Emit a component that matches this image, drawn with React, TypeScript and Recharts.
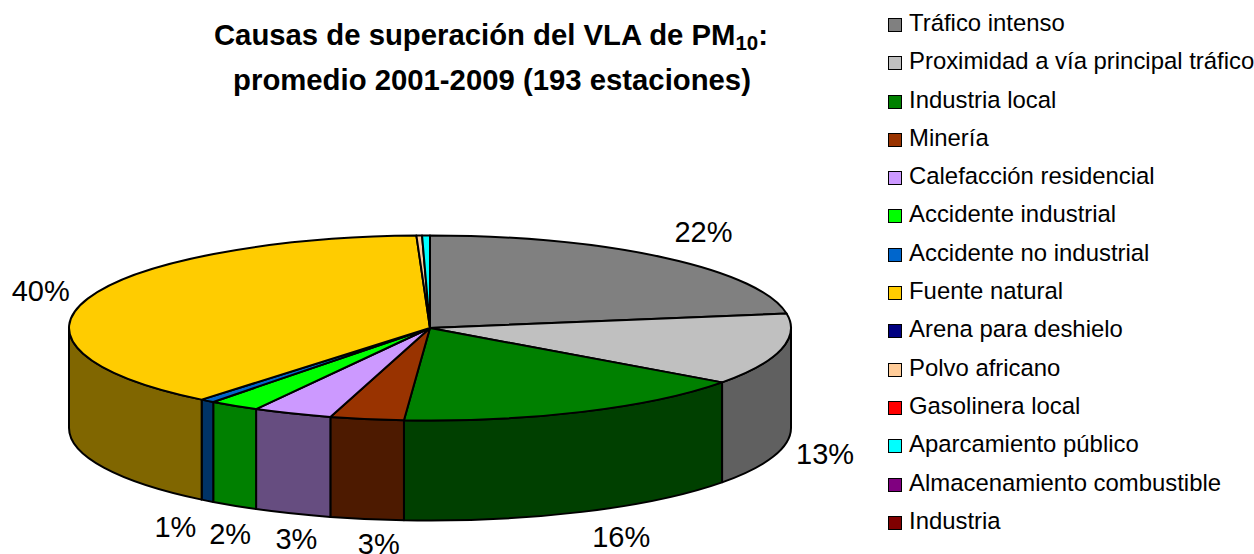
import React from 'react'
import { PieChart, Pie, Legend } from 'recharts'

const causes = [
  'Tráfico intenso',
  'Proximidad a vía principal tráfico',
  'Industria local',
  'Minería',
  'Calefacción residencial',
  'Accidente industrial',
  'Accidente no industrial',
  'Fuente natural',
  'Arena para deshielo',
  'Polvo africano',
  'Gasolinera local',
  'Aparcamiento público',
  'Almacenamiento combustible',
  'Industria',
]
const shares = [22.5, 12.5, 16.15, 3.3, 3.55, 2.25, 0.65, 38.5, 0, 0.25, 0, 0.35, 0, 0]
const shareLabels = ['22%', '13%', '16%', '3%', '3%', '2%', '1%', '40%']
const colors = [
  '#808080', '#C0C0C0', '#008000', '#993300', '#CC99FF', '#00FF00', '#0066CC',
  '#FFCC00', '#000080', '#FFCC99', '#FF0000', '#00FFFF', '#800080', '#800000',
]

const tableData = causes.map((name, i) => ({ name, value: shares[i], fill: colors[i] }))

// excel puts the labels wherever it likes, so nudge each one off the rim
const labelNudge = [
  [39, -26], [44, 104], [39, 125], [12, 125], [4, 125], [-4, 128], [-32, 126], [-47, -8],
]

const FONT = '"Liberation Sans", Arial, sans-serif'
const SQUASH = 92.5 / 361
const DEPTH = 100

function darker(hex: string) {
  const n = parseInt(hex.slice(1), 16)
  const ch = (v: number) => Math.round(v / 2).toString(16).padStart(2, '0')
  return `#${ch((n >> 16) & 255)}${ch((n >> 8) & 255)}${ch(n & 255)}`
}

// slice of the tilted disc: top face plus the visible part of the side wall
function TiltedSlice(props: any) {
  const { cx, cy, outerRadius, startAngle, endAngle, fill } = props
  if (Math.abs(endAngle - startAngle) < 0.001) return null
  const rx = outerRadius
  const ry = outerRadius * SQUASH
  const at = (t: number, dy = 0) => {
    const r = (t * Math.PI) / 180
    return `${cx + rx * Math.sin(r)} ${cy - ry * Math.cos(r) + dy}`
  }
  const t0 = 90 - startAngle
  const t1 = 90 - endAngle
  const large = t1 - t0 > 180 ? 1 : 0
  const a = Math.max(t0, 90)
  const b = Math.min(t1, 270)
  return (
    <g stroke="#000" strokeWidth={2} strokeLinejoin="round">
      {b > a && (
        <path
          fill={darker(fill)}
          d={`M${at(a)} A${rx} ${ry} 0 0 1 ${at(b)} L${at(b, DEPTH)} A${rx} ${ry} 0 0 0 ${at(a, DEPTH)} Z`}
        />
      )}
      <path fill={fill} d={`M${cx} ${cy} L${at(t0)} A${rx} ${ry} 0 ${large} 1 ${at(t1)} Z`} />
    </g>
  )
}

function renderShareLabel(props: any) {
  const { cx, cy, outerRadius, midAngle, index } = props
  if (index >= shareLabels.length) return null
  const r = (midAngle * Math.PI) / 180
  const [dx, dy] = labelNudge[index]
  return (
    <text
      x={cx + outerRadius * Math.cos(r) + dx}
      y={cy - outerRadius * SQUASH * Math.sin(r) + dy}
      textAnchor="middle"
      dominantBaseline="central"
      fontFamily={FONT}
      fontSize={29}
      fill="#000"
    >
      {shareLabels[index]}
    </text>
  )
}

function renderLegend(props: any) {
  return (
    <div style={{ fontFamily: FONT, fontSize: 23.9, color: '#000' }}>
      {props.payload.map((p: any) => (
        <div key={p.value} style={{ height: 38.3, lineHeight: '38.3px', whiteSpace: 'nowrap', position: 'relative', paddingLeft: 21 }}>
          <span
            style={{
              position: 'absolute', left: 0, top: 14, width: 12, height: 12,
              background: p.color, border: '1.5px solid #000',
            }}
          />
          {p.value}
        </div>
      ))}
    </div>
  )
}

export default function App() {
  return (
    <div style={{ position: 'absolute', left: 0, top: 0, width: 1254, height: 554, background: '#fff' }}>
      <PieChart width={1254} height={554} margin={{ top: 0, right: 0, bottom: 0, left: 0 }}>
        <text x={491} y={45} textAnchor="middle" fontFamily={FONT} fontSize={29.3} fontWeight="bold" fill="#000">
          Causas de superación del VLA de PM
          <tspan fontSize={20.5} dy={5}>10</tspan>
          <tspan dy={-5}>:</tspan>
        </text>
        <text x={492} y={90} textAnchor="middle" fontFamily={FONT} fontSize={29.3} fontWeight="bold" fill="#000">
          promedio 2001-2009 (193 estaciones)
        </text>
        <Pie
          data={tableData}
          dataKey="value"
          nameKey="name"
          cx={430}
          cy={328}
          outerRadius={361}
          startAngle={90}
          endAngle={-270}
          isAnimationActive={false}
          shape={TiltedSlice}
          label={renderShareLabel}
          labelLine={false}
        />
        <Legend
          content={renderLegend}
          itemSorter={null}
          layout="vertical"
          verticalAlign="top"
          align="right"
          wrapperStyle={{ left: 888, top: 4, width: 366 }}
        />
      </PieChart>
    </div>
  )
}
